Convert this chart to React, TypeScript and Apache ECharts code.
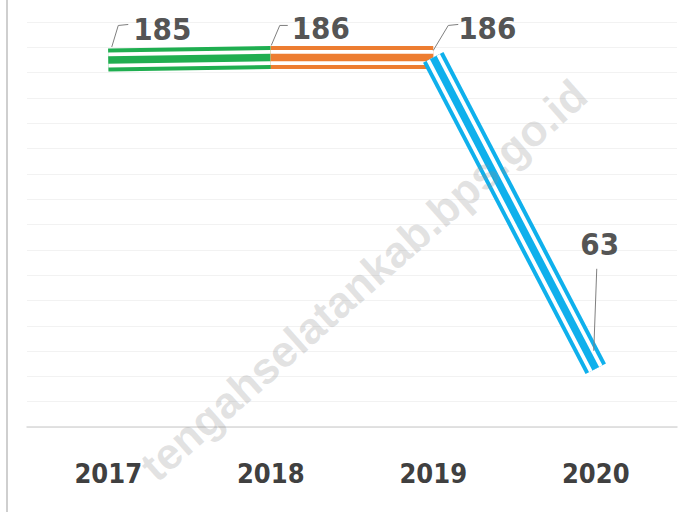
import React, { useEffect, useRef } from "react";
import * as echarts from "echarts";

const categories = ["2017", "2018", "2019", "2020"];
const values = [185, 186, 186, 63];
const segmentColors = ["#1fae50", "#ed7d31", "#0fb0ec"];
const yMin = 40;
const yMax = 200;
const yInterval = 10;
const watermark = "tengahselatankab.bps.go.id";

const labelOffsets = [
  [54, -31],
  [50, -29],
  [54, -29],
  [4, -125],
];
const leaderPaths = [
  [[3.5, -13], [10, -34.5], [20, -35.5]],
  [[0.5, -12], [9, -32], [17, -32]],
  [[0, -7], [15, -32], [25, -33]],
  [[-2, -18], [1, -100]],
];

const narrow = "'Liberation Sans Narrow', 'Noto Sans Condensed', 'DejaVu Sans Condensed', Arial, sans-serif";

const layers = [
  { w: 23, white: false },
  { w: 15, white: true },
  { w: 7.5, white: false },
];

export default function App() {
  const ref = useRef<HTMLDivElement>(null);
  useEffect(() => {
    if (!ref.current) return;
    const chart = echarts.init(ref.current, undefined, { renderer: "svg" });
    const segData = (i: number) => values.map((v, j) => (j === i || j === i + 1 ? v : null));
    const lineSeries = segmentColors.flatMap((c, i) =>
      layers.map((l) => ({
        type: "line",
        data: segData(i),
        symbol: "none",
        silent: true,
        connectNulls: false,
        lineStyle: { width: l.w, color: l.white ? "#ffffff" : c, cap: "butt", join: "miter" },
        emphasis: { disabled: true },
        z: 2,
      }))
    );
    chart.setOption({
      animation: false,
      backgroundColor: "#ffffff",
      grid: { left: 27, right: 8, top: 22, bottom: 85 },
      xAxis: {
        type: "category",
        data: categories,
        boundaryGap: true,
        axisLine: { show: true, lineStyle: { color: "#d9d9d9", width: 1.5 } },
        axisTick: { show: false },
        axisLabel: {
          margin: 33,
          fontSize: 27,
          fontWeight: "bold",
          fontFamily: narrow,
          color: "#404040",
        },
      },
      yAxis: {
        type: "value",
        min: yMin,
        max: yMax,
        interval: yInterval,
        axisLabel: { show: false },
        axisLine: { show: false },
        axisTick: { show: false },
        splitLine: { show: true, lineStyle: { color: "#f2f2f2", width: 1 } },
      },
      series: [
        ...lineSeries,
        {
          type: "scatter",
          data: values.map((v, i) => ({ value: v, label: { offset: labelOffsets[i] } })),
          symbolSize: 1,
          silent: true,
          itemStyle: { color: "rgba(0,0,0,0)" },
          label: {
            show: true,
            position: "inside",
            formatter: "{c}",
            fontSize: 31,
            fontWeight: "bold",
            fontFamily: narrow,
            color: "#262626",
          },
          z: 10,
        },
      ],
    });
    const leaders = values.map((v, i) => {
      const p = chart.convertToPixel({ gridIndex: 0 }, [i, v]) as number[];
      return {
        type: "polyline",
        silent: true,
        z: 20,
        shape: { points: leaderPaths[i].map(([dx, dy]) => [p[0] + dx, p[1] + dy]) },
        style: { stroke: "#7f7f7f", lineWidth: 1, fill: "none" },
      };
    });
    chart.setOption({
      graphic: [
        {
          type: "line",
          silent: true,
          shape: { x1: 7, y1: 0, x2: 7, y2: 512 },
          style: { stroke: "#cfcfcf", lineWidth: 2 },
          z: 1,
        },
        ...leaders,
        {
          type: "text",
          silent: true,
          x: 580,
          y: 88,
          rotation: 0.725,
          z: 100,
          style: {
            text: watermark,
            font: "bold 44px 'Liberation Sans', Arial, sans-serif",
            fill: "rgba(140,140,140,0.25)",
            align: "right",
            verticalAlign: "middle",
          },
        },
      ],
    });
    return () => chart.dispose();
  }, []);
  return (
    <div
      ref={ref}
      style={{ position: "fixed", left: 0, top: 0, width: 685, height: 512 }}
    />
  );
}
